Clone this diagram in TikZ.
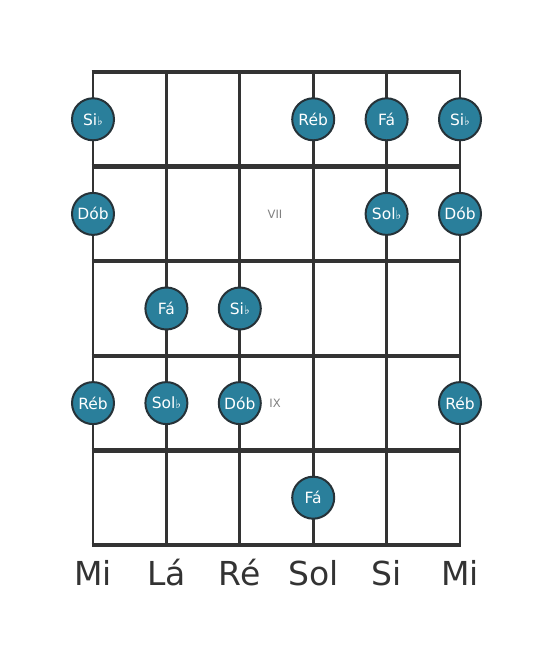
\documentclass[tikz,border=0pt]{standalone}
\usepackage{fontspec}
\setmainfont{DejaVu Sans}
\definecolor{dotfill}{HTML}{2A7F9B}
\definecolor{dotline}{HTML}{263238}
\definecolor{ink}{HTML}{333333}
\newcommand{\bemol}{{\fontsize{12}{12}\selectfont ♭}}

\tikzset{
  notedot/.style={circle, fill=dotfill, draw=dotline, line width=2pt,
    minimum size=42pt, inner sep=0pt, text=white, font=\fontsize{15.5}{16}\selectfont},
  stringname/.style={text=ink, font=\fontsize{33}{34}\selectfont},
  fretnum/.style={text=gray, font=\fontsize{11.5}{12}\selectfont}
}

\begin{document}
\begin{tikzpicture}[x=1pt, y=-1pt]
        \useasboundingbox (0,0) rectangle (553,656);
        % cordas
        \foreach \i in {1,...,6} {
          \draw[ink, line width=2.8pt] ({93+(\i-1)*73.4},72) -- ({93+(\i-1)*73.4},545);
        }
        % trastes
        \foreach \j in {0,...,5} {
          \draw[ink, line width=4.3pt] (91.6,{72+\j*94.6}) -- (461.4,{72+\j*94.6});
        }
        \node[fretnum] (casa-vii) at (275,214) {VII};
        \node[fretnum] (casa-ix) at (275,403) {IX};
        % notas
        \foreach \s/\r/\nota in {1/1/Si\bemol, 4/1/Réb, 5/1/Fá, 6/1/Si\bemol,
                                 1/2/Dób, 5/2/Sol\bemol, 6/2/Dób,
                                 2/3/Fá, 3/3/Si\bemol,
                                 1/4/Réb, 2/4/Sol\bemol, 3/4/Dób, 6/4/Réb,
                                 4/5/Fá} {
          \node[notedot] (nota-\r-\s) at ({93+(\s-1)*73.4},{72+(\r-0.5)*94.6}) {\nota};
        }
        % afinacao
        \foreach \nome [count=\i] in {Mi,Lá,Ré,Sol,Si,Mi} {
          \node[stringname] (corda-\i) at ({93+(\i-1)*73.4},573) {\nome};
        }
      \end{tikzpicture}
\end{document}
